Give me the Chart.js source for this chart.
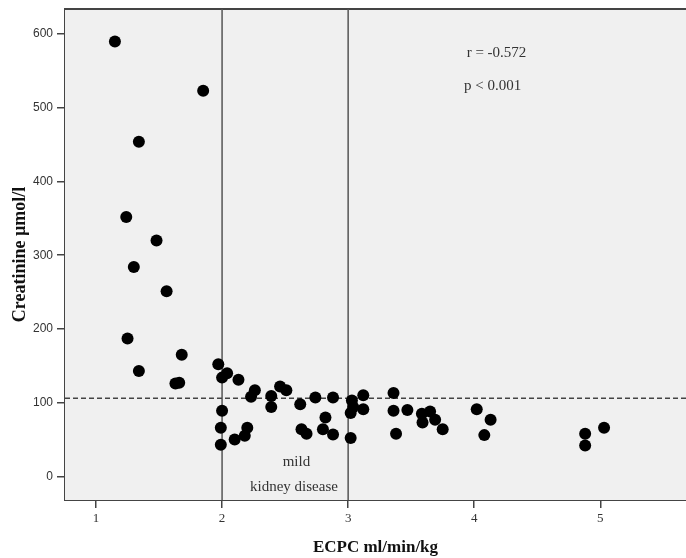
<!DOCTYPE html>
<html>
<head>
<title>ECPC vs creatinine</title>
<script src="https://cdn.jsdelivr.net/npm/chart.js"></script>
<style>
  body { margin: 0; background: #fff; }
  #wrap { width: 686px; height: 558px; }
</style>
</head>
<body>
<div id="wrap"><canvas id="myChart" width="686" height="558"></canvas></div>
<script>
// ECPC (ml/min/kg) and creatinine (umol/l) per patient
const ecpc = [1.15, 1.85, 1.34, 1.24, 1.48, 1.30, 1.56, 1.25, 1.68, 1.34, 1.63, 1.66,
  1.97, 2.00, 2.04, 2.13, 2.26, 2.23, 2.39, 2.39, 2.46, 2.51, 2.62, 2.74, 2.88,
  2.00, 1.99, 1.99, 2.10, 2.18, 2.20, 2.63, 2.67, 2.82, 2.80, 2.88,
  3.02, 3.03, 3.04, 3.02, 3.12, 3.12, 3.36, 3.36, 3.38, 3.47,
  3.585, 3.65, 3.59, 3.69, 3.75, 4.02, 4.13, 4.08, 4.88, 4.88, 5.03];
const creatinine = [590, 523, 454, 352, 320, 284, 251, 187, 165, 143, 126, 127,
  152, 134, 140, 131, 117, 108, 109, 94, 122, 117, 98, 107, 107,
  89, 66, 43, 50, 55, 66, 64, 58, 80, 64, 57,
  52, 103, 94, 86, 110, 91, 113, 89, 58, 90,
  85, 88, 73, 77, 64, 91, 77, 56, 58, 42, 66];
const xTicks = [1, 2, 3, 4, 5];
const yTicks = [0, 100, 200, 300, 400, 500, 600];
const cutX = [2, 3];      // vertical reference lines
const cutY = 106;         // dashed reference line
const stats = [
  { x: 3.94, y: 574, text: 'r = -0.572' },
  { x: 3.92, y: 529, text: 'p < 0.001' }
];
const region = [
  { x: 2.59, y: 20, text: 'mild' },
  { x: 2.57, y: -14, text: 'kidney disease' }
];

const points = ecpc.map((v, i) => ({ x: v, y: creatinine[i] }));

const decor = {
  id: 'decor',
  beforeDatasetsDraw(chart) {
    const { ctx, chartArea: a, scales: { x, y } } = chart;
    ctx.save();
    ctx.fillStyle = '#f0f0f0';
    ctx.fillRect(a.left, a.top, a.right - a.left, a.bottom - a.top);
    // top border
    ctx.strokeStyle = '#444';
    ctx.lineWidth = 2;
    ctx.beginPath();
    ctx.moveTo(a.left, a.top);
    ctx.lineTo(a.right, a.top);
    ctx.stroke();
    // vertical lines
    ctx.strokeStyle = '#555';
    ctx.lineWidth = 1.5;
    cutX.forEach(v => {
      const px = x.getPixelForValue(v);
      ctx.beginPath();
      ctx.moveTo(px, a.top);
      ctx.lineTo(px, a.bottom);
      ctx.stroke();
    });
    // dashed line
    ctx.setLineDash([5, 3]);
    ctx.strokeStyle = '#444';
    const py = y.getPixelForValue(cutY);
    ctx.beginPath();
    ctx.moveTo(a.left, py);
    ctx.lineTo(a.right, py);
    ctx.stroke();
    ctx.setLineDash([]);
    // text
    ctx.fillStyle = '#333';
    ctx.font = '15px "Liberation Serif"';
    ctx.textAlign = 'left';
    ctx.textBaseline = 'middle';
    stats.forEach(n => {
      ctx.fillText(n.text, x.getPixelForValue(n.x), y.getPixelForValue(n.y));
    });
    ctx.textAlign = 'center';
    region.forEach(n => {
      ctx.fillText(n.text, x.getPixelForValue(n.x), y.getPixelForValue(n.y));
    });
    ctx.restore();
  }
};

new Chart(document.getElementById('myChart'), {
  type: 'scatter',
  data: {
    datasets: [{
      data: points,
      backgroundColor: '#000',
      borderWidth: 0,
      pointRadius: 6,
      pointHoverRadius: 6
    }]
  },
  options: {
    responsive: false,
    animation: false,
    layout: { autoPadding: false, padding: { top: 9, right: 0, left: 0, bottom: 0 } },
    plugins: { legend: { display: false }, tooltip: { enabled: false } },
    scales: {
      x: {
        type: 'linear',
        min: 0.754,
        max: 5.68,
        afterBuildTicks: s => { s.ticks = xTicks.map(v => ({ value: v })); },
        afterFit: s => { s.height = 58; s.paddingLeft = 0; s.paddingRight = 0; },
        border: { color: '#444', width: 2 },
        grid: { drawOnChartArea: false, drawTicks: true, tickLength: 8, color: '#444', lineWidth: 1.5 },
        ticks: { color: '#333', padding: 3, font: { family: 'Liberation Serif', size: 13 } },
        title: {
          display: true,
          text: 'ECPC ml/min/kg',
          color: '#111',
          padding: { top: 3, bottom: 0 },
          font: { family: 'Liberation Serif', size: 17, weight: 'bold' }
        }
      },
      y: {
        type: 'linear',
        min: -32,
        max: 634,
        afterBuildTicks: s => { s.ticks = yTicks.map(v => ({ value: v })); },
        afterFit: s => { s.width = 65; s.paddingTop = 0; s.paddingBottom = 0; },
        border: { color: '#444', width: 2 },
        grid: { drawOnChartArea: false, drawTicks: true, tickLength: 8, color: '#444', lineWidth: 1.5 },
        ticks: { color: '#333', padding: 4, font: { family: 'Liberation Sans', size: 12 } },
        title: {
          display: true,
          text: 'Creatinine µmol/l',
          color: '#111',
          padding: { top: 10, bottom: 0 },
          font: { family: 'Liberation Serif', size: 18, weight: 'bold' }
        }
      }
    }
  },
  plugins: [decor]
});
</script>
</body>
</html>
